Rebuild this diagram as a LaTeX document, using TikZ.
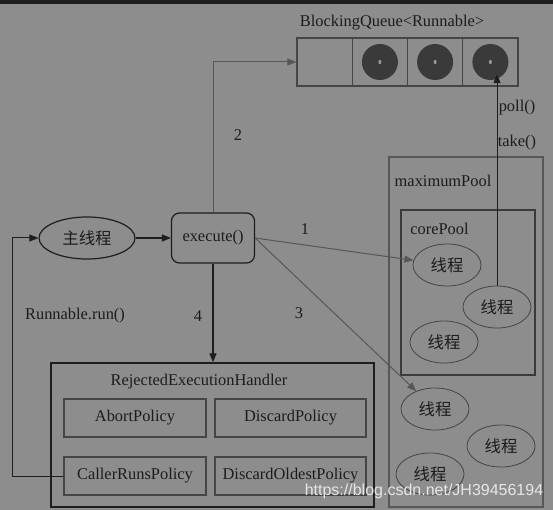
\documentclass[tikz,border=0pt]{standalone}
\usepackage{fontspec}
\setmainfont{Liberation Serif}
\newfontfamily\cjk{Noto Sans CJK SC}
\newfontfamily\wmfont{Liberation Sans}
\usepackage{tikz}
\usetikzlibrary{shapes.geometric, arrows.meta}
\definecolor{bg}{HTML}{8D8D8D}
\definecolor{band}{HTML}{1E1E1E}
\definecolor{ink}{HTML}{1C1C1C}
\definecolor{midgray}{HTML}{575757}
\definecolor{boxgray}{HTML}{454545}
\definecolor{ballgray}{HTML}{3A3A3A}
\definecolor{mark}{HTML}{E6E6E6}

\begin{document}
\begin{tikzpicture}[x=1pt, y=-1pt, font=\fontsize{16.4}{19}\selectfont, text=ink,
    >={Triangle[length=9pt,width=7pt]},
    thread/.style={ellipse, draw=boxgray, line width=0.8pt, minimum width=68pt, minimum height=42pt, inner sep=0pt},
    policy/.style={draw=boxgray, line width=1.5pt, minimum height=38pt, inner sep=0pt},
    cell/.style={draw=boxgray, line width=1.2pt, minimum width=55.25pt, minimum height=48pt, inner sep=0pt},
    ball/.style={circle, fill=ballgray, minimum size=36pt, inner sep=0pt},
    grayarrow/.style={->, midgray, line width=1pt}]
    \fill[bg] (0,0) rectangle (553,510);
    \fill[band] (0,0) rectangle (553,4);
    \useasboundingbox (0,0) rectangle (553,510);

    % queue
    \node (qtitle) at (392,23) {BlockingQueue<Runnable>};
    \node[cell] (q1) at (324.6,62) {};
    \node[cell] (q2) at (379.9,62) {};
    \node[cell] (q3) at (435.1,62) {};
    \node[cell] (q4) at (490.4,62) {};
    \foreach \i in {2,3,4} {
        \node[ball] (c\i) at (q\i.center) {};
        \fill[bg!90!white] (c\i.center) ellipse (1.5pt and 2.2pt);
    }

    % pools
    \node[draw=midgray, line width=1.2pt, minimum width=154pt, minimum height=350pt] (maxpool) at (466,332) {};
    \node (maxlabel) at (443,181) {maximumPool};
    \node[draw=ballgray, line width=1.5pt, minimum width=134pt, minimum height=165pt] (corepool) at (468,292.5) {};
    \node (corelabel) at (439.5,229) {corePool};
    \node[thread] (t1) at (447,265) {\cjk 线程};
    \node[thread] (t2) at (497,307) {\cjk 线程};
    \node[thread] (t3) at (444,342) {\cjk 线程};
    \node[thread] (t4) at (435,409) {\cjk 线程};
    \node[thread] (t5) at (501,446) {\cjk 线程};
    \node[thread] (t6) at (430,474) {\cjk 线程};

    % caller side
    \node[ellipse, draw=band, line width=1.2pt, minimum width=96pt, minimum height=42pt, inner sep=0pt] (main) at (87,238) {\cjk 主线程};
    \node[draw=band, line width=1.2pt, rounded corners=8pt, minimum width=83pt, minimum height=50pt] (exec) at (213,238) {\raisebox{3pt}{execute()}};

    % handler
    \node[draw=band, line width=1.5pt, minimum width=323pt, minimum height=144pt] (handler) at (212.5,435) {};
    \node (hlabel) at (199,382) {RejectedExecutionHandler};
    \node[policy, minimum width=142pt] (abort) at (135,418) {AbortPolicy};
    \node[policy, minimum width=151pt] (discard) at (290.5,418) {DiscardPolicy};
    \node[policy, minimum width=142pt] (caller) at (135,476) {CallerRunsPolicy};
    \node[policy, minimum width=151pt] (oldest) at (290.5,476) {DiscardOldestPolicy};

    % connectors
    \draw[->, band, line width=1.2pt] (main) -- (exec);
    \draw[grayarrow] (exec.north) |- (q1.west);
    \draw[grayarrow] (exec.east) -- (t1);
    \draw[grayarrow] (exec.east) -- (t4);
    \draw[->, band, line width=1.2pt] (exec.south) -- (exec.south |- handler.north);
    \coordinate (loopcorner) at (12,476);
    \draw[->, band, line width=1pt] (caller.west) -- (loopcorner) |- (main.west);
    \draw[->, band, line width=1pt, shorten >=-6pt] (t2.north) -- (t2.north |- c4.south);

    % labels
    \node (l2) at (238,135) {2};
    \node (l1) at (305,229) {1};
    \node (l3) at (299,313) {3};
    \node (l4) at (198,316) {4};
    \node (lrun) at (75,316) {Runnable.run()};
    \node (lpoll) at (517,108) {poll()};
    \node (ltake) at (517,143) {take()};

    \node[text=mark, font=\wmfont\fontsize{16}{19}\selectfont, inner sep=0pt] (wm) at (424,491) {https://blog.csdn.net/JH39456194};
\end{tikzpicture}
\end{document}
